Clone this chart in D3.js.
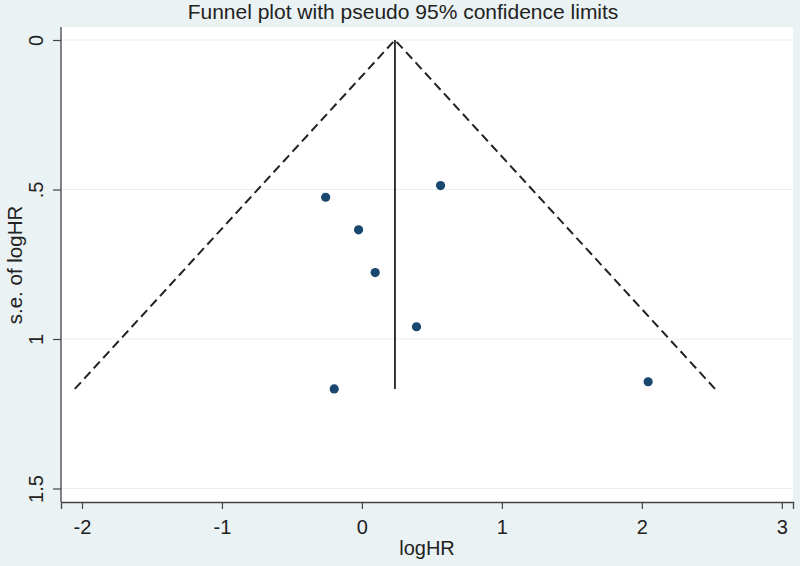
<!DOCTYPE html>
<html>
<head>
<meta charset="utf-8">
<script src="https://cdn.jsdelivr.net/npm/d3@7"></script>
<style>
  body { margin: 0; background: #eaf2f3; }
  svg { display: block; font-family: "Liberation Sans", Arial, sans-serif; }
</style>
</head>
<body>
<div id="chart"></div>
<script>
// study estimates
var logHR = [-0.259, 0.562, -0.024, 0.095, 0.39, -0.198, 2.045];
var seLogHR = [0.526, 0.487, 0.635, 0.778, 0.959, 1.167, 1.143];
var pooled = 0.236;
var xTicks = [-2, -1, 0, 1, 2, 3];
var yTicks = [0, 0.5, 1, 1.5];
var yTickLabels = ["0", ".5", "1", "1.5"];

var W = 800, H = 566;
var margin = {top: 27, right: 7, bottom: 64, left: 61};
var width = W - margin.left - margin.right;
var height = H - margin.top - margin.bottom;

var svg = d3.select("#chart")
  .append("svg")
    .attr("width", W)
    .attr("height", H);

svg.append("rect")
  .attr("width", W).attr("height", H)
  .attr("fill", "#eaf2f3");

svg.append("text")
  .attr("x", 403)
  .attr("y", 19)
  .attr("text-anchor", "middle")
  .style("font-size", "21px")
  .style("fill", "#222")
  .text("Funnel plot with pseudo 95% confidence limits");

var g = svg.append("g")
  .attr("transform", "translate(" + margin.left + "," + margin.top + ")");

g.append("rect")
  .attr("width", width).attr("height", height)
  .attr("fill", "#ffffff");

var x = d3.scaleLinear()
  .domain([-2.15, 3.08])
  .range([0, width]);

// se axis runs downward, 0 at the top
var y = d3.scaleLinear()
  .domain([0, 1.5])
  .range([13, 13 + 1.5 * 299]);

// gridlines
g.append("g")
  .selectAll("line")
  .data(yTicks)
  .enter()
  .append("line")
    .attr("x1", 0).attr("x2", width)
    .attr("y1", function (d) { return y(d); })
    .attr("y2", function (d) { return y(d); })
    .attr("stroke", "#e6f0f3")
    .attr("stroke-width", 1.2);

// funnel limits
var seMax = d3.max(seLogHR);
var funnel = [
  [pooled - 1.96 * seMax, seMax],
  [pooled, 0],
  [pooled + 1.96 * seMax, seMax]
];
g.append("path")
  .datum(funnel)
  .attr("d", d3.line()
    .x(function (d) { return x(d[0]); })
    .y(function (d) { return y(d[1]); }))
  .attr("fill", "none")
  .attr("stroke", "#222")
  .attr("stroke-width", 2)
  .attr("stroke-dasharray", "9,5");

// pooled estimate
g.append("line")
  .attr("x1", x(pooled)).attr("x2", x(pooled))
  .attr("y1", y(0)).attr("y2", y(seMax))
  .attr("stroke", "#222")
  .attr("stroke-width", 1.8);

// studies
g.append("g")
  .selectAll("circle")
  .data(d3.range(0, logHR.length))
  .enter()
  .append("circle")
    .attr("cx", function (d) { return x(logHR[d]); })
    .attr("cy", function (d) { return y(seLogHR[d]); })
    .attr("r", 4.6)
    .style("fill", "#1a476f");

// axes
var xAxis = g.append("g")
  .attr("transform", "translate(0," + height + ")")
  .call(d3.axisBottom(x).tickValues(xTicks).tickSize(7).tickPadding(11)
    .tickFormat(function (d) { return String(d); }));
xAxis.select(".domain").attr("stroke", "#444").attr("stroke-width", 1.3);
xAxis.selectAll(".tick line").attr("stroke", "#444").attr("stroke-width", 1.2);
xAxis.selectAll(".tick text").style("font-size", "20px").style("fill", "#222");

var yAxis = g.append("g")
  .call(d3.axisLeft(y).tickValues(yTicks).tickSize(8)
    .tickFormat(function (d, i) { return yTickLabels[i]; }));
yAxis.select(".domain")
  .attr("d", "M0," + height + "V0")
  .attr("stroke", "#444").attr("stroke-width", 1.3);
yAxis.selectAll(".tick line").attr("stroke", "#444").attr("stroke-width", 1.2);
yAxis.selectAll(".tick text")
  .style("font-size", "20px").style("fill", "#222")
  .attr("text-anchor", "middle")
  .attr("x", null).attr("dy", null)
  .attr("transform", "translate(-18,0) rotate(-90)");

// axis titles
svg.append("text")
  .attr("x", margin.left + width / 2)
  .attr("y", 555)
  .attr("text-anchor", "middle")
  .style("font-size", "20px")
  .style("fill", "#222")
  .text("logHR");

svg.append("text")
  .attr("transform", "translate(22,265) rotate(-90)")
  .attr("text-anchor", "middle")
  .style("font-size", "20.5px")
  .style("fill", "#222")
  .text("s.e. of logHR");
</script>
</body>
</html>
